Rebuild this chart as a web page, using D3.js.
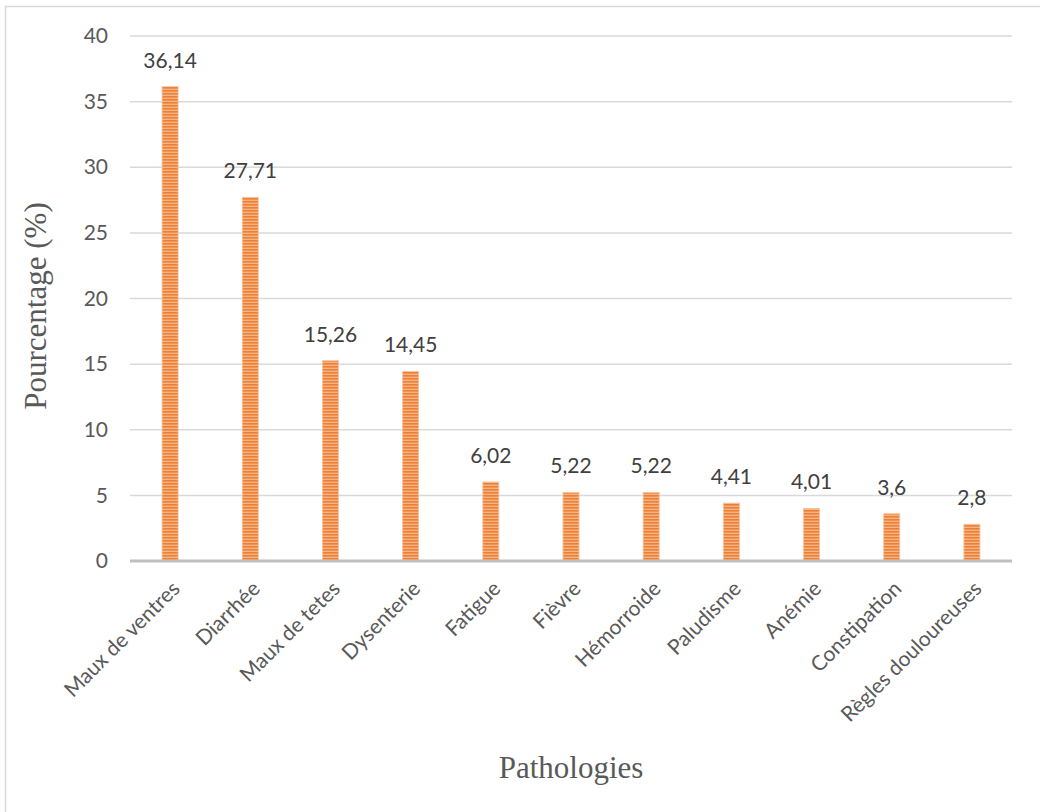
<!DOCTYPE html>
<html>
<head>
<meta charset="utf-8">
<script src="https://cdn.jsdelivr.net/npm/d3@7"></script>
<style>
  html, body { margin: 0; padding: 0; background: #fff; }
  svg { display: block; }
</style>
</head>
<body>
<svg id="chart" width="1040" height="812"></svg>
<script>
const categories = ["Maux de ventres", "Diarrhée", "Maux de tetes", "Dysenterie", "Fatigue", "Fièvre", "Hémorroide", "Paludisme", "Anémie", "Constipation", "Règles douloureuses"];
const values = [36.14, 27.71, 15.26, 14.45, 6.02, 5.22, 5.22, 4.41, 4.01, 3.6, 2.8];
const valueLabels = ["36,14", "27,71", "15,26", "14,45", "6,02", "5,22", "5,22", "4,41", "4,01", "3,6", "2,8"];
const yTicks = [0, 5, 10, 15, 20, 25, 30, 35, 40];

const svg = d3.select("#chart");
const W = 1040, H = 812;
const plot = { left: 130, right: 1012, top: 36, bottom: 561 };
const sans = "Lato, 'Open Sans', sans-serif";
const serif = "'Liberation Serif', 'Times New Roman', serif";

// outer chart frame
svg.append("rect")
  .attr("x", 5.5).attr("y", 6.5)
  .attr("width", W + 10).attr("height", H + 10)
  .attr("fill", "#fff").attr("stroke", "#d9d9d9").attr("stroke-width", 1.5);

// striped fill for the bars
const defs = svg.append("defs");
const pat = defs.append("pattern")
  .attr("id", "stripes").attr("patternUnits", "userSpaceOnUse")
  .attr("width", 6).attr("height", 3);
pat.append("rect").attr("width", 6).attr("height", 3).attr("fill", "#f5b487");
pat.append("rect").attr("y", 0).attr("width", 6).attr("height", 1.6).attr("fill", "#ee7f33");

const x = d3.scaleBand().domain(categories).range([plot.left, plot.right]).paddingInner(0.8).paddingOuter(0.4);
const y = d3.scaleLinear().domain([0, 40]).range([plot.bottom, plot.top]);

// gridlines
svg.append("g").selectAll("line").data(yTicks.filter(d => d > 0)).join("line")
  .attr("x1", plot.left).attr("x2", plot.right)
  .attr("y1", d => y(d)).attr("y2", d => y(d))
  .attr("stroke", "#d9d9d9").attr("stroke-width", 1.5);

// y axis labels
const yAxis = d3.axisLeft(y).tickValues(yTicks).tickSize(0).tickPadding(0).tickFormat(d3.format("d"));
const gy = svg.append("g").attr("transform", `translate(${plot.left - 22},0)`).call(yAxis);
gy.select(".domain").remove();
gy.selectAll("text")
  .attr("font-family", sans)
  .attr("font-size", 21).attr("fill", "#595959");

// bars
svg.append("g").selectAll("rect").data(values).join("rect")
  .attr("x", (d, i) => x(categories[i]))
  .attr("y", d => y(d))
  .attr("width", x.bandwidth())
  .attr("height", d => y(0) - y(d))
  .attr("fill", "url(#stripes)")
  .attr("stroke", "#f7c29c").attr("stroke-width", 0.8);

// value labels
svg.append("g").selectAll("text").data(values).join("text")
  .attr("x", (d, i) => x(categories[i]) + x.bandwidth() / 2)
  .attr("y", d => y(d) - 19)
  .attr("text-anchor", "middle")
  .attr("font-family", sans)
  .attr("font-size", 21).attr("fill", "#404040")
  .text((d, i) => valueLabels[i]);

// baseline
svg.append("line")
  .attr("x1", plot.left).attr("x2", plot.right)
  .attr("y1", y(0)).attr("y2", y(0))
  .attr("stroke", "#bfbfbf").attr("stroke-width", 3);

// category labels, rotated
const xAxis = d3.axisBottom(x).tickSize(0).tickPadding(0);
const gx = svg.append("g").attr("transform", `translate(0,${plot.bottom})`).call(xAxis);
gx.select(".domain").remove();
gx.selectAll("text")
  .attr("font-family", sans)
  .attr("font-size", 21).attr("fill", "#595959")
  .attr("text-anchor", "end")
  .attr("dy", 0)
  .attr("transform", "translate(11,29) rotate(-45)");

// axis titles
svg.append("text")
  .attr("transform", `translate(46,306) rotate(-90)`)
  .attr("text-anchor", "middle")
  .attr("font-family", serif)
  .attr("font-size", 31).attr("fill", "#595959")
  .text("Pourcentage (%)");

svg.append("text")
  .attr("x", (plot.left + plot.right) / 2)
  .attr("y", 778)
  .attr("text-anchor", "middle")
  .attr("font-family", serif)
  .attr("font-size", 31).attr("fill", "#595959")
  .text("Pathologies");
</script>
</body>
</html>
